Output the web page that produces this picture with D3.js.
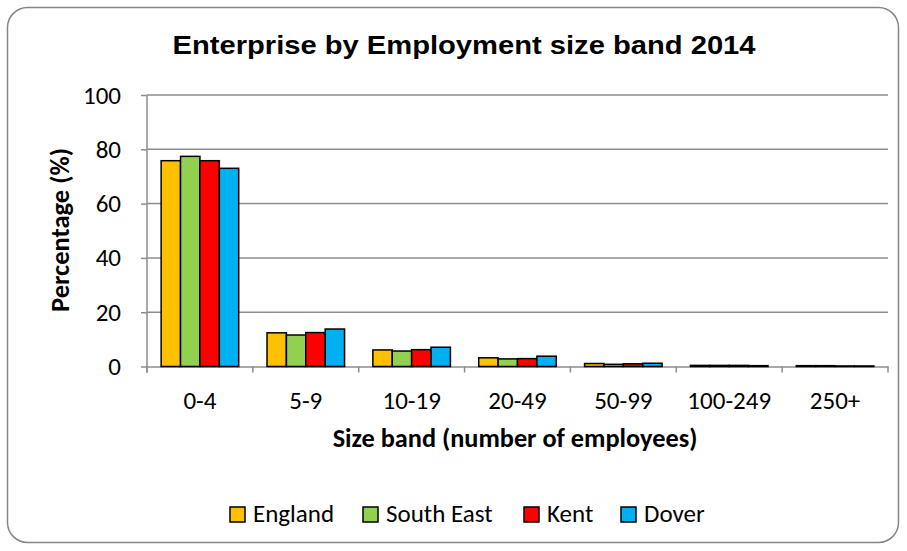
<!DOCTYPE html>
<html><head><meta charset="utf-8">
<script src="https://cdn.jsdelivr.net/npm/d3@7"></script>
<style>body{margin:0;background:#fff}svg{display:block}</style>
</head><body>
<svg id="c" width="907" height="551"></svg>
<script>
const categories = ["0-4","5-9","10-19","20-49","50-99","100-249","250+"];
const seriesNames = ["England","South East","Kent","Dover"];
const england   = [75.8, 12.4, 6.1, 3.2, 1.1, 0.4, 0.3];
const southEast = [77.4, 11.6, 5.7, 2.8, 0.8, 0.4, 0.3];
const kent      = [75.8, 12.5, 6.2, 2.9, 1.0, 0.4, 0.2];
const dover     = [73.0, 13.8, 7.1, 3.8, 1.2, 0.3, 0.2];
const colors = ["#FFC000","#92D050","#FF0000","#00B0F0"];
const yTicks = [0,20,40,60,80,100];
const seriesValues = [england, southEast, kent, dover];

const svg = d3.select("#c");
const lab = "Carlito, Calibri, Lato, 'Open Sans', sans-serif";
svg.append("rect").attr("x",7.5).attr("y",7.5).attr("width",891).attr("height",535)
  .attr("rx",20).attr("fill","#fff").attr("stroke","#868686").attr("stroke-width",1.5);

const m = {l:147, r:888, t:95, b:366.5};
const x = d3.scaleBand().domain(categories).range([m.l,m.r]).paddingInner(0).paddingOuter(0);
const xs = d3.scaleBand().domain(seriesNames).range([0,x.bandwidth()]).paddingInner(0).paddingOuter(0.73);
const y = d3.scaleLinear().domain([0,100]).range([m.b,m.t]);

// gridlines
svg.append("g").selectAll("line").data(yTicks.filter(d=>d>0)).join("line")
  .attr("x1",m.l).attr("x2",m.r).attr("y1",d=>y(d)).attr("y2",d=>y(d))
  .attr("stroke","#8c8c8c").attr("stroke-width",1.5);

// y axis
const ya = svg.append("g").attr("transform",`translate(${m.l},0)`)
  .call(d3.axisLeft(y).tickValues(yTicks).tickSize(6).tickPadding(20));
ya.select(".domain").attr("stroke","#8c8c8c").attr("stroke-width",1.5).attr("d",`M0,${m.b+6}V${m.t}`);
ya.selectAll(".tick line").attr("stroke","#8c8c8c").attr("stroke-width",1.5);
ya.selectAll(".tick text").attr("font-family",lab).attr("font-size",25).attr("fill","#000");

// x axis
const xa = svg.append("g").attr("transform",`translate(0,${m.b})`)
  .call(d3.axisBottom(x).tickSize(0).tickPadding(24.5));
xa.select(".domain").attr("stroke","#8c8c8c").attr("stroke-width",1.5);
xa.selectAll(".tick text").attr("font-family",lab).attr("font-size",25).attr("fill","#000");
const bounds = categories.map(c=>x(c)).concat([m.r]);
svg.append("g").selectAll("line").data(bounds).join("line")
  .attr("x1",d=>d).attr("x2",d=>d).attr("y1",m.b).attr("y2",m.b+6)
  .attr("stroke","#8c8c8c").attr("stroke-width",1.5);

// bars
seriesNames.forEach((s,i)=>{
  svg.append("g").selectAll("rect").data(seriesValues[i]).join("rect")
    .attr("x",(d,j)=>x(categories[j])+xs(s))
    .attr("width",xs.bandwidth())
    .attr("y",d=>y(d)).attr("height",d=>m.b-y(d))
    .attr("fill",colors[i]).attr("stroke","#000").attr("stroke-width",1.5);
});

// titles
svg.append("text").attr("x",464).attr("y",54.3).attr("text-anchor","middle")
  .attr("font-family","'Liberation Sans', Arial, sans-serif").attr("font-weight","bold")
  .attr("font-size",25).attr("textLength",583).attr("lengthAdjust","spacingAndGlyphs")
  .text("Enterprise by Employment size band 2014");
svg.append("text").attr("transform",`translate(69,230) rotate(-90)`)
  .attr("text-anchor","middle").attr("font-family",lab).attr("font-weight","bold")
  .attr("font-size",26.5).text("Percentage (%)");
svg.append("text").attr("x",515).attr("y",447).attr("text-anchor","middle")
  .attr("font-family",lab).attr("font-weight","bold").attr("font-size",26.3)
  .text("Size band (number of employees)");

// legend
const legX = [230, 363, 524, 621];
const lg = svg.append("g");
seriesNames.forEach((s,i)=>{
  lg.append("rect").attr("x",legX[i]).attr("y",507).attr("width",15).attr("height",15)
    .attr("fill",colors[i]).attr("stroke","#000").attr("stroke-width",1.5);
  lg.append("text").attr("x",legX[i]+23).attr("y",522).attr("font-family",lab)
    .attr("font-size",25).text(s);
});
</script>
</body></html>
